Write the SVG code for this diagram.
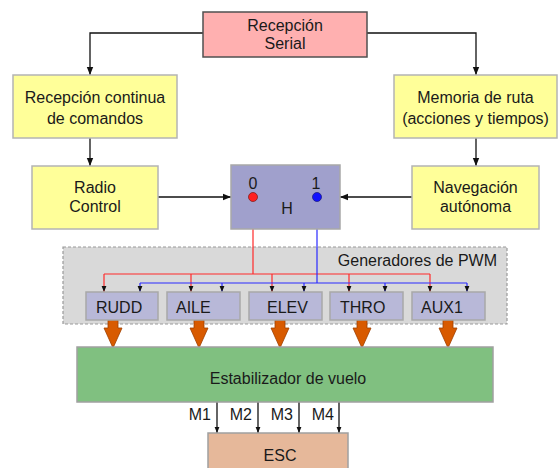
<svg xmlns="http://www.w3.org/2000/svg" width="560" height="468" viewBox="0 0 560 468">
<defs>
<style>
text{font-family:"Liberation Sans",Arial,sans-serif;font-size:16px;fill:#1a1a1a}
.mid{text-anchor:middle}
.yb{fill:#ffff99;stroke:#b4b4b4;stroke-width:1.5}
.sub{fill:#b8b8d8;stroke:#a8a8a8;stroke-width:1.5}
.ln{fill:none;stroke:#111;stroke-width:1.3}
.red{fill:none;stroke:#ff2a2a;stroke-width:1.2}
.blue{fill:none;stroke:#2a2aff;stroke-width:1.2}
.oa{fill:#d85a00;stroke:#a04000;stroke-width:0.8}
</style>
<marker id="ah" viewBox="0 0 10 10" refX="10" refY="5" markerWidth="8" markerHeight="8" markerUnits="userSpaceOnUse" orient="auto"><path d="M0,1 L10,5 L0,9 Z" fill="#111"/></marker>
<marker id="sh" viewBox="0 0 10 10" refX="10" refY="5" markerWidth="6" markerHeight="6" markerUnits="userSpaceOnUse" orient="auto"><path d="M0,1 L10,5 L0,9 Z" fill="#111"/></marker>
</defs>
<g id="pwm-group">
<rect x="63" y="247" width="444" height="77" fill="#d9d9d9" stroke="#9a9a9a" stroke-width="1.2" stroke-dasharray="3,2"/>
<text x="497" y="266" text-anchor="end">Generadores de PWM</text>
</g>
<g id="connectors">
<path class="ln" d="M203,33 H90 V75" marker-end="url(#ah)"/>
<path class="ln" d="M367,33 H476 V75" marker-end="url(#ah)"/>
<path class="ln" d="M90,138 V166" marker-end="url(#ah)"/>
<path class="ln" d="M476,138 V166" marker-end="url(#ah)"/>
<path class="ln" d="M158,197 H231" marker-end="url(#ah)"/>
<path class="ln" d="M412,197 H340" marker-end="url(#ah)"/>
<path class="red" d="M253,197 V274 M104,274 H430"/>
<path class="red" d="M104,274 V292" marker-end="url(#sh)"/>
<path class="red" d="M191,274 V292" marker-end="url(#sh)"/>
<path class="red" d="M272,274 V292" marker-end="url(#sh)"/>
<path class="red" d="M349,274 V292" marker-end="url(#sh)"/>
<path class="red" d="M430,274 V292" marker-end="url(#sh)"/>
<path class="blue" d="M317,197 V283 M140,283 H467"/>
<path class="blue" d="M140,283 V292" marker-end="url(#sh)"/>
<path class="blue" d="M222,283 V292" marker-end="url(#sh)"/>
<path class="blue" d="M304,283 V292" marker-end="url(#sh)"/>
<path class="blue" d="M385,283 V292" marker-end="url(#sh)"/>
<path class="blue" d="M467,283 V292" marker-end="url(#sh)"/>
<path class="oa" d="M108,320 H118 V328 H122 L113,348 L104,328 H108 Z"/>
<path class="oa" d="M194,320 H204 V328 H208 L199,348 L190,328 H194 Z"/>
<path class="oa" d="M275,320 H285 V328 H289 L280,348 L271,328 H275 Z"/>
<path class="oa" d="M357,320 H367 V328 H371 L362,348 L353,328 H357 Z"/>
<path class="oa" d="M443,320 H453 V328 H457 L448,348 L439,328 H443 Z"/>
<path class="ln" d="M217,402 V433" stroke-width="1" marker-end="url(#sh)"/>
<path class="ln" d="M258,402 V433" stroke-width="1" marker-end="url(#sh)"/>
<path class="ln" d="M299,402 V433" stroke-width="1" marker-end="url(#sh)"/>
<path class="ln" d="M339,402 V433" stroke-width="1" marker-end="url(#sh)"/>
<text x="211" y="420" text-anchor="end">M1</text>
<text x="252" y="420" text-anchor="end">M2</text>
<text x="293" y="420" text-anchor="end">M3</text>
<text x="334" y="420" text-anchor="end">M4</text>
</g>
<g id="recepcion-serial">
<rect x="203" y="12" width="164" height="45" fill="#ffb0b0" stroke="#505050" stroke-width="1.5"/>
<text x="285" y="31" class="mid">Recepción</text>
<text x="285" y="49" class="mid">Serial</text>
</g>
<g id="recepcion-continua">
<rect class="yb" x="13" y="75" width="164" height="63"/>
<text x="95" y="103" class="mid">Recepción continua</text>
<text x="95" y="124" class="mid">de comandos</text>
</g>
<g id="memoria-ruta">
<rect class="yb" x="394" y="75" width="163" height="63"/>
<text x="475.5" y="103" class="mid">Memoria de ruta</text>
<text x="475.5" y="124" class="mid">(acciones y tiempos)</text>
</g>
<g id="radio-control">
<rect class="yb" x="32" y="166" width="126" height="63"/>
<text x="95" y="193" class="mid">Radio</text>
<text x="95" y="212" class="mid">Control</text>
</g>
<g id="navegacion">
<rect class="yb" x="412" y="166" width="127" height="63"/>
<text x="475.5" y="193" class="mid">Navegación</text>
<text x="475.5" y="212" class="mid">autónoma</text>
</g>
<g id="h-switch">
<rect x="231" y="165" width="109" height="64" fill="#a0a0cc" stroke="#a8a8a8" stroke-width="1.5"/>
<text x="253" y="189" class="mid">0</text>
<text x="316" y="189" class="mid">1</text>
<text x="287" y="214" class="mid">H</text>
<circle cx="253" cy="197" r="4.5" fill="#ff2020" stroke="#802020" stroke-width="0.8"/>
<circle cx="317" cy="197" r="4.5" fill="#1010ff" stroke="#202080" stroke-width="0.8"/>
</g>
<g id="rudd"><rect class="sub" x="86" y="292" width="72" height="28"/><text x="96" y="313">RUDD</text></g>
<g id="aile"><rect class="sub" x="167" y="292" width="73" height="28"/><text x="176" y="313">AILE</text></g>
<g id="elev"><rect class="sub" x="249" y="292" width="73" height="28"/><text x="267" y="313">ELEV</text></g>
<g id="thro"><rect class="sub" x="330" y="292" width="73" height="28"/><text x="340" y="313">THRO</text></g>
<g id="aux1"><rect class="sub" x="412" y="292" width="73" height="28"/><text x="421" y="313">AUX1</text></g>
<g id="estabilizador">
<rect x="77" y="347" width="416" height="55" fill="#80c080" stroke="#a0a0a0" stroke-width="1.5"/>
<text x="288" y="384" class="mid">Estabilizador de vuelo</text>
</g>
<g id="esc">
<rect x="208" y="433" width="140" height="40" fill="#e6b89a" stroke="#a0a0a0" stroke-width="1.5"/>
<text x="280" y="461" class="mid">ESC</text>
</g>
</svg>
